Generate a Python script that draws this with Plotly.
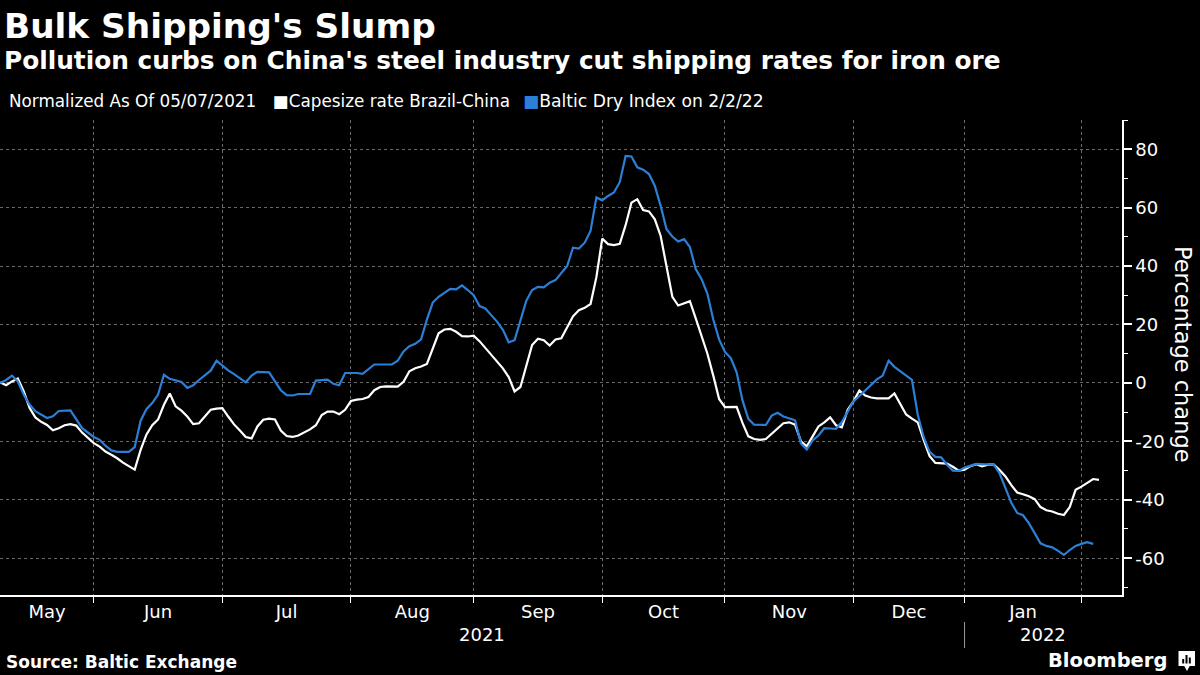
import plotly.graph_objects as go

# ---------------- data ----------------
months = ["May", "Jun", "Jul", "Aug", "Sep", "Oct", "Nov", "Dec", "Jan"]
month_trading_days = [16, 22, 22, 21, 22, 21, 22, 19, 20]   # trading days shown per month
years = ["2021", "2022"]
y_ticks = [-60, -40, -20, 0, 20, 40, 60, 80]
y_tick_labels = ["-60", "-40", "-20", "0", "20", "40", "60", "80"]

# Baltic Dry Index (normalized, % change since 05/07/2021), by trading day
bdi_day = [0, 1, 2, 3, 4, 5, 6, 8, 9, 10, 12, 13, 14, 16, 17, 18, 19, 20, 22, 23, 24, 25, 26, 27, 28, 29,
           30, 31, 32, 33, 34, 35, 36, 37, 38, 39, 40, 41, 42, 43, 44, 46, 47, 48, 49, 50, 51, 53, 54, 56,
           57, 58, 59, 61, 62, 64, 67, 68, 69, 70, 71, 72, 73, 74, 75, 76, 77, 78, 79, 80, 81, 82, 83, 84,
           85, 86, 87, 88, 89, 90, 91, 92, 93, 94, 95, 96, 97, 98, 99, 100, 101, 102, 103, 104, 105, 106,
           107, 108, 109, 110, 111, 112, 113, 114, 115, 116, 117, 118, 119, 120, 121, 122, 123, 124, 125,
           126, 127, 128, 129, 131, 132, 133, 134, 136, 137, 138, 139, 140, 141, 142, 143, 144, 145, 146,
           147, 148, 149, 150, 151, 152, 153, 154, 155, 156, 157, 158, 159, 160, 161, 162, 163, 164, 165,
           166, 167, 170, 171, 172, 173, 174, 175, 176, 177, 178, 179, 180, 181, 182, 183, 184, 185, 186, 187]
bdi_val = [0, 1.0, 2.5, 0.5, -4, -7.4, -9.7, -12, -11.4, -9.6, -9.4, -12.6, -15.5, -18.5, -19.5, -21.5,
           -23.1, -23.6, -23.6, -22, -13, -9, -6.9, -4, 2.8, 1.4,
           0.8, 0.3, -1.7, -0.8, 1.0, 2.5, 4.2, 7.6, 5.9, 4.3, 3.0, 1.7, 0.2, 2.5, 3.8, 3.6, 0.5, -2.5, -4.2,
           -4.3, -3.8, -3.8, 0.8, 1.1,
           -0.3, -0.8, 3.4, 3.4, 3.1, 6.3, 6.3, 7.6, 10.8, 12.6, 13.4, 14.9, 21.7, 27.5, 29.5, 30.9, 32.2,
           32.0, 33.4, 31.8, 30.0, 26.3, 25.5, 23.2,
           21.0, 18.2, 13.9, 14.6, 21.7, 28.1, 31.8, 32.9, 32.7, 34.3, 35.2, 37.5, 40.0, 46.3, 46.0, 48.0,
           52.0, 63.5, 62.5, 64.0, 65.2, 68.7,
           77.7, 77.5, 73.8, 73.0, 71.5, 67.4, 60.6, 52.6, 50.1, 48.4, 49.2, 46.5, 39.0, 35.5, 30.5, 21.7,
           14.9, 10.6, 8.5,
           3.6, -6.0, -12.3, -14.3, -14.4, -11.2, -10.2, -11.5, -12.8, -20.7, -22.8, -19.7, -18.0, -15.5,
           -15.6, -15.7, -13.4, -9.8, -6.3,
           -4.5, -2.5, -0.5, 1.2, 2.5, 7.6, 5.5, 4.0, 2.5, 1.0, -11.0, -18.5, -23.5, -25.3, -25.5, -28.0,
           -30.0, -30.1, -29.0,
           -28.3, -27.7, -28.0, -31.0, -36.0, -41.0, -44.5, -45.3, -48.0, -51.5, -54.9, -55.8, -56.3, -57.5,
           -58.9, -57.2, -55.8, -55.1, -54.5, -55.1]

# Capesize rate Brazil-China (normalized), by trading day
cape_day = list(range(0, 189))
cape_val = [0.2, -0.8, 0.5, 1.5, -2.8, -8.5, -11.8, -13.3, -14.4, -16.2,
            -15.5, -14.5, -14.1, -14.6, -17.0, -18.8, -20.6, -21.8, -23.5, -24.6,
            -25.8, -27.3, -28.6, -29.7, -23.0, -17.7, -14.5, -12.5, -7.5, -3.6,
            -8.0, -9.5, -11.5, -14.1, -13.8, -11.3, -9.2, -8.8, -8.6, -11.5,
            -14.2, -16.3, -18.5, -19.0, -14.9, -12.6, -12.2, -12.5, -16.3, -18.2,
            -18.5, -18.0, -16.9, -15.9, -14.5, -11.0, -9.8, -9.8, -10.7, -9.2,
            -6.2, -5.7, -5.5, -4.8, -2.5, -1.4, -1.2, -1.3, -1.3, 0.4,
            4.0, 5.0, 5.6, 6.5, 12.0, 17.0, 18.3, 18.5, 17.5, 16.0,
            15.9, 16.2, 14.3, 12.0, 9.5, 7.5, 5.0, 2.0, -2.9, -1.4,
            6.0, 13.0, 15.1, 14.6, 12.8, 14.9, 15.3, 19.0, 22.8, 24.9,
            25.7, 27.0, 36.2, 49.4, 47.5, 47.2, 47.6, 54.0, 61.7, 62.9,
            59.2, 58.7, 56.0, 50.3, 40.0, 29.5, 26.5, 27.2, 28.0, 22.1,
            16.0, 10.0, 2.5, -5.5, -8.3, -8.3, -8.2, -13.7, -18.3, -19.2,
            -19.5, -19.2, -17.5, -15.6, -13.8, -13.5, -14.3, -20.0, -21.7, -18.3,
            -14.9, -13.5, -11.8, -14.5, -15.2, -9.2, -6.3, -2.6, -4.3, -5.0,
            -5.3, -5.3, -5.3, -3.6, -7.2, -10.8, -12.2, -13.5, -19.5, -25.0,
            -27.4, -27.5, -27.6, -28.7, -30.0, -29.7, -28.5, -27.8, -28.6, -28.0,
            -28.0, -29.8, -32.0, -35.0, -37.5, -38.1, -38.8, -39.8, -42.5, -43.6,
            -44.0, -44.8, -45.2, -42.5, -36.6, -35.5, -34.1, -32.9, -33.2]

# ---------------- derived axis helpers ----------------
bounds = [0]
for d in month_trading_days:
    bounds.append(bounds[-1] + d)
month_centers = [(bounds[k] + bounds[k + 1]) / 2 for k in range(len(months))]
month_starts = bounds[1:]
x_range = [-0.05, 191.94]
year_break = bounds[8]  # first trading day of January
year_centers = [(bounds[0] + year_break) / 2, (year_break + x_range[1]) / 2]

FONT = "DejaVu Sans"
BLUE = "#2b7fd6"
GRID = "#6a6a6a"

# plot area in pixels: x 0..1122, y 120..595
def px(xp):
    return xp / 1122.0

def py(yp):
    return (595.0 - yp) / 475.0

fig = go.Figure()
fig.add_trace(go.Scatter(x=cape_day, y=cape_val, mode="lines",
                         line=dict(color="white", width=2.2), showlegend=False,
                         name="Capesize rate Brazil-China"))
fig.add_trace(go.Scatter(x=bdi_day, y=bdi_val, mode="lines",
                         line=dict(color=BLUE, width=2.2), showlegend=False,
                         name="Baltic Dry Index on 2/2/22"))

annotations = [
    dict(text="<b>Bulk Shipping's Slump</b>", x=px(2), y=py(26), xanchor="left", yanchor="middle",
         font=dict(size=34.3, color="white", family=FONT)),
    dict(text="<b>Pollution curbs on China's steel industry cut shipping rates for iron ore</b>",
         x=px(2), y=py(61), xanchor="left", yanchor="middle",
         font=dict(size=24.8, color="white", family=FONT)),
    dict(text="Normalized As Of 05/07/2021", x=px(6.5), y=py(101), xanchor="left", yanchor="middle",
         font=dict(size=16.8, color="white", family=FONT)),
    dict(text="<span style='color:white'>■</span>Capesize rate Brazil-China", x=px(271), y=py(101),
         xanchor="left", yanchor="middle", font=dict(size=16.8, color="white", family=FONT)),
    dict(text="<span style='color:%s'>■</span>Baltic Dry Index on 2/2/22" % BLUE, x=px(520.5), y=py(101),
         xanchor="left", yanchor="middle", font=dict(size=17.2, color="white", family=FONT)),
    dict(text="Percentage change", x=px(1183), y=py(354), xanchor="center", yanchor="middle",
         textangle=90, font=dict(size=22.5, color="white", family=FONT)),
    dict(text="<b>Source: Baltic Exchange</b>", x=px(4), y=py(662), xanchor="left", yanchor="middle",
         font=dict(size=17, color="white", family=FONT)),
    dict(text="<b>Bloomberg</b>", x=px(1169), y=py(660), xanchor="right", yanchor="middle",
         font=dict(size=19.5, color="white", family=FONT)),
]
for yr, xc in zip(years, year_centers):
    annotations.append(dict(text=yr, x=xc, xref="x", y=py(634), yref="paper", xanchor="center",
                            yanchor="middle", showarrow=False,
                            font=dict(size=18, color="white", family=FONT)))
for a in annotations:
    a.setdefault("xref", "paper")
    a.setdefault("yref", "paper")
    a["showarrow"] = False

shapes = [
    dict(type="line", xref="x", yref="paper", x0=year_break, x1=year_break, y0=py(622), y1=py(648),
         line=dict(color="#9a9a9a", width=1)),
    # Bloomberg logo glyph
    dict(type="rect", xref="paper", yref="paper", x0=px(1178.5), x1=px(1195), y0=py(651), y1=py(666),
         fillcolor="white", line=dict(width=0)),
    dict(type="path", xref="paper", yref="paper",
         path="M %f %f L %f %f L %f %f Z" % (px(1184), py(665.5), px(1190), py(665.5), px(1187), py(671)),
         fillcolor="white", line=dict(width=0)),
]
for bx, top in [(1183.2, 659), (1186.5, 655), (1189.8, 657.5)]:
    shapes.append(dict(type="line", xref="paper", yref="paper", x0=px(bx), x1=px(bx), y0=py(top),
                       y1=py(663.5), line=dict(color="black", width=2)))

fig.update_layout(
    width=1200, height=675,
    margin=dict(l=0, r=78, t=120, b=80),
    paper_bgcolor="black", plot_bgcolor="black",
    font=dict(family=FONT, color="white", size=18),
    annotations=annotations, shapes=shapes,
    showlegend=False,
    xaxis=dict(
        range=x_range, tickmode="array", tickvals=month_centers, ticktext=months,
        ticks="", showgrid=False, zeroline=False,
        showline=True, linecolor="white", linewidth=1.5,
        tickfont=dict(size=18, color="white", family=FONT),
        minor=dict(tickmode="array", tickvals=month_starts, ticks="outside", ticklen=6,
                   tickcolor="white", tickwidth=1, showgrid=True, gridcolor=GRID,
                   griddash="dot", gridwidth=1),
    ),
    yaxis=dict(
        side="right", range=[-72.6, 90], tickmode="array", tickvals=y_ticks, ticktext=y_tick_labels,
        ticks="outside", ticklen=8, tickwidth=1.5, tickcolor="white",
        showline=True, linecolor="white", linewidth=1.5,
        showgrid=True, gridcolor=GRID, griddash="dot", gridwidth=1, zeroline=False,
        tickfont=dict(size=18, color="white", family=FONT),
        minor=dict(tickmode="linear", tick0=0, dtick=10, ticks="outside", ticklen=4,
                   tickcolor="white", tickwidth=1, showgrid=False),
    ),
)

fig.write_html("out.html",
               config={"displayModeBar": False},
               post_script="document.body.style.margin='0';document.body.style.overflow='hidden';"
                           "document.body.style.background='black';")
